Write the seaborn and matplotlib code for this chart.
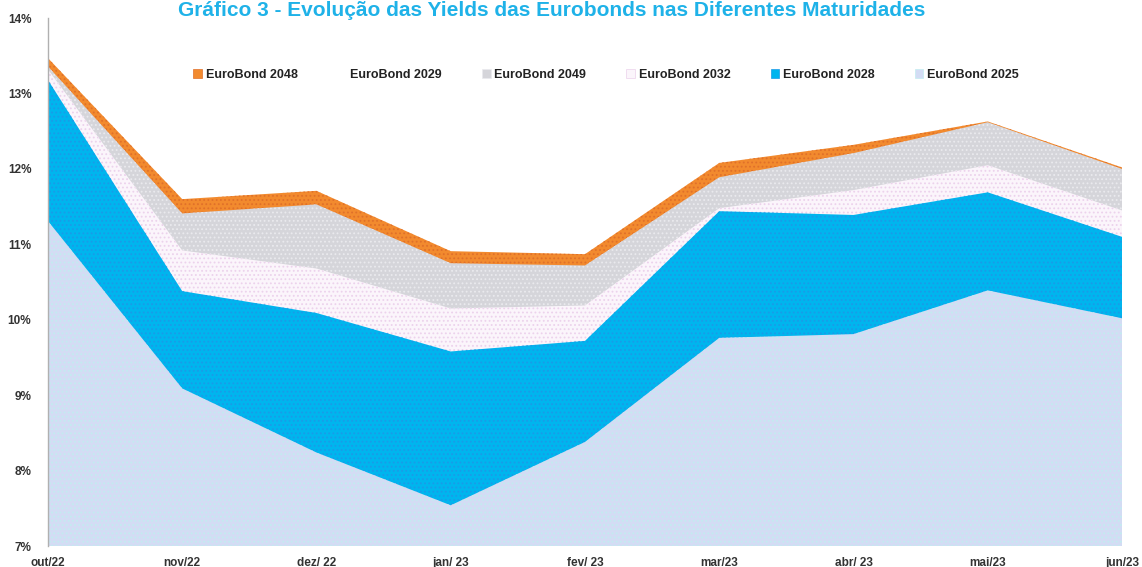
import matplotlib
matplotlib.use('Agg')
import matplotlib.pyplot as plt
import matplotlib.ticker as mticker
from matplotlib.patches import Patch
import pandas as pd
import seaborn as sns


# monthly yields (%)
months = ["out/22", "nov/22", "dez/ 22", "jan/ 23", "fev/ 23", "mar/23", "abr/ 23", "mai/23", "jun/23"]
eb_2048 = [13.47, 11.60, 11.71, 10.91, 10.87, 12.08, 12.32, 12.63, 12.02]
eb_2029 = [13.30, 10.95, 10.70, 10.18, 10.20, 11.50, 11.74, 12.07, 11.46]
eb_2049 = [13.36, 11.41, 11.53, 10.75, 10.72, 11.89, 12.21, 12.62, 12.00]
eb_2032 = [13.32, 10.92, 10.68, 10.15, 10.19, 11.48, 11.72, 12.05, 11.45]
eb_2028 = [13.18, 10.38, 10.09, 9.58, 9.72, 11.44, 11.39, 11.69, 11.10]
eb_2025 = [11.31, 9.09, 8.24, 7.54, 8.38, 9.76, 9.81, 10.39, 10.02]

series = ["EuroBond 2048", "EuroBond 2029", "EuroBond 2049", "EuroBond 2032", "EuroBond 2028", "EuroBond 2025"]
colors = {
	"EuroBond 2048": "#f28a2e",
	"EuroBond 2029": "#ffffff",
	"EuroBond 2049": "#d5d5da",
	"EuroBond 2032": "#fbf5fb",
	"EuroBond 2028": "#00b5ee",
	"EuroBond 2025": "#d3dcf4",
}
hatch_colors = {
	"EuroBond 2048": "#e0702a",
	"EuroBond 2029": "#ffffff",
	"EuroBond 2049": "#eaeaee",
	"EuroBond 2032": "#ecd2ec",
	"EuroBond 2028": "#1a9be8",
	"EuroBond 2025": "#c2ecf0",
}

df = pd.DataFrame({
	"mes": months,
	"EuroBond 2048": eb_2048,
	"EuroBond 2029": eb_2029,
	"EuroBond 2049": eb_2049,
	"EuroBond 2032": eb_2032,
	"EuroBond 2028": eb_2028,
	"EuroBond 2025": eb_2025,
})

sns.set_theme(style="white")
plt.rcParams['font.family'] = ['Liberation Sans', 'DejaVu Sans']
plt.rcParams['hatch.linewidth'] = 0.8

fig = plt.figure(figsize=(11.42, 5.67), dpi=100)
ax = fig.add_axes([0.042, 0.037, 0.9405, 0.931])

x = list(range(len(months)))
base = 7.0
# overlapping areas, drawn back to front
for name in series:
	ax.fill_between(x, base, df[name], facecolor=colors[name], edgecolor=hatch_colors[name],
		hatch='....', linewidth=0)

ax.set_xlim(0, len(months) - 1)
ax.set_ylim(7, 14)
ax.yaxis.set_major_locator(mticker.MultipleLocator(1))
ax.yaxis.set_major_formatter(mticker.FuncFormatter(lambda v, p: f"{v:.0f}%"))
ax.set_xticks(x)
ax.set_xticklabels(months)
ax.tick_params(axis='both', labelsize=8.5, colors='#333333', length=0)
for lbl in ax.get_xticklabels() + ax.get_yticklabels():
	lbl.set_fontweight('bold')
ax.tick_params(axis='y', pad=12)
ax.tick_params(axis='x', pad=8)

sns.despine(ax=ax, top=True, right=True, bottom=True)
ax.spines['left'].set_color('#b0b0b0')
ax.spines['left'].set_linewidth(1)
ax.grid(False)

handles = [Patch(facecolor=colors[n], edgecolor=hatch_colors[n] if n != "EuroBond 2029" else 'none',
	linewidth=0.5) for n in series]
leg = ax.legend(handles, series, ncol=6, loc='upper left', bbox_to_anchor=(0.125, 0.925),
	frameon=False, fontsize=9, handlelength=0.7, handleheight=0.7, handletextpad=0.3,
	columnspacing=3.2)
for t in leg.get_texts():
	t.set_fontweight('bold')
	t.set_color('#222222')

fig.text(0.483, 0.999, "Gráfico 3 - Evolução das Yields das Eurobonds nas Diferentes Maturidades",
	ha='center', va='top', fontsize=15, fontweight='bold', color='#1fb2e8')

fig.savefig('out.png', dpi=100)
